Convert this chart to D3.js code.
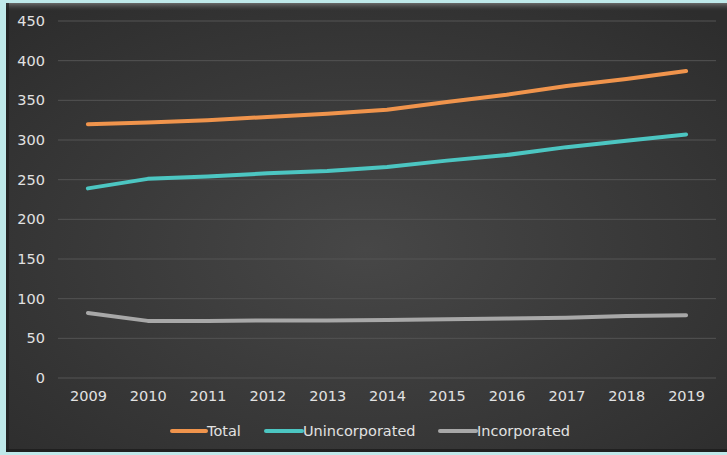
<!DOCTYPE html>
<html>
<head>
<meta charset="utf-8">
<script src="https://cdn.jsdelivr.net/npm/d3@7"></script>
<style>
  html, body { margin: 0; padding: 0; background: #bfe9ea; }
  svg { display: block; }
</style>
</head>
<body>
<svg id="chart" width="727" height="455"></svg>
<script>
const years = ["2009","2010","2011","2012","2013","2014","2015","2016","2017","2018","2019"];
const total = [320, 322, 325, 329, 333, 338, 348, 357, 368, 377, 387];
const unincorporated = [239, 251, 254, 258, 261, 266, 274, 281, 291, 299, 307];
const incorporated = [82, 72, 72, 72.5, 72.5, 73, 74, 75, 76, 78, 79];
const yTicks = [0, 50, 100, 150, 200, 250, 300, 350, 400, 450];

const seriesList = [
  { name: "Total", values: total, color: "#f0944c" },
  { name: "Unincorporated", values: unincorporated, color: "#4cc6c2" },
  { name: "Incorporated", values: incorporated, color: "#a8a8a8" }
];

const W = 727, H = 455;
const svg = d3.select("#chart");
const defs = svg.append("defs");

// Panel shading: darker edges, lighter centre
const rg = defs.append("radialGradient").attr("id", "panelGrad")
  .attr("cx", "50%").attr("cy", "55%").attr("r", "70%");
rg.append("stop").attr("offset", "0%").attr("stop-color", "#474747");
rg.append("stop").attr("offset", "100%").attr("stop-color", "#2d2d2d");

const topGrad = defs.append("linearGradient").attr("id", "topGrad")
  .attr("x1", 0).attr("y1", 0).attr("x2", 0).attr("y2", 1);
topGrad.append("stop").attr("offset", "0%").attr("stop-color", "#6a6a6a");
topGrad.append("stop").attr("offset", "100%").attr("stop-color", "#3a3a3a").attr("stop-opacity", 0);

svg.append("rect").attr("x", 6).attr("y", 3).attr("width", W - 6).attr("height", 449)
  .attr("fill", "url(#panelGrad)");
svg.append("rect").attr("x", 6).attr("y", 3).attr("width", W - 6).attr("height", 8)
  .attr("fill", "url(#topGrad)");
svg.append("rect").attr("x", 6).attr("y", 3).attr("width", 3).attr("height", 449)
  .attr("fill", "#1f1f1f").attr("opacity", 0.7);
svg.append("rect").attr("x", 6).attr("y", 449).attr("width", W - 6).attr("height", 3)
  .attr("fill", "#1c1c1c").attr("opacity", 0.8);

const plot = { left: 58, right: 716, top: 21, bottom: 378 };

const x = d3.scalePoint().domain(years).range([plot.left, plot.right]).padding(0.5);
const y = d3.scaleLinear().domain([0, 450]).range([plot.bottom, plot.top]);

const fontFamily = "'DejaVu Sans', Verdana, sans-serif";
const textColor = "#e2e2e2";
const fontSize = "14.5px";

// Horizontal gridlines
svg.append("g")
  .selectAll("line").data(yTicks).join("line")
  .attr("x1", plot.left).attr("x2", plot.right)
  .attr("y1", d => y(d)).attr("y2", d => y(d))
  .attr("stroke", "#545454").attr("stroke-width", 1);

// Y axis labels
const yAxis = d3.axisLeft(y).tickValues(yTicks).tickSize(0).tickPadding(0);
const gy = svg.append("g").attr("transform", `translate(${45},0)`).call(yAxis);
gy.select(".domain").remove();
gy.selectAll("text").attr("fill", textColor).style("font-family", fontFamily).style("font-size", fontSize);

// X axis labels
const xAxis = d3.axisBottom(x).tickSize(0).tickPadding(0);
const gx = svg.append("g").attr("transform", `translate(0,${391})`).call(xAxis);
gx.select(".domain").remove();
gx.selectAll("text").attr("fill", textColor).style("font-family", fontFamily).style("font-size", fontSize);

// Series lines
const line = d3.line().x((d, i) => x(years[i])).y(d => y(d));
svg.append("g").selectAll("path").data(seriesList).join("path")
  .attr("d", s => line(s.values))
  .attr("fill", "none")
  .attr("stroke", s => s.color)
  .attr("stroke-width", 4)
  .attr("stroke-linecap", "round")
  .attr("stroke-linejoin", "round");

// Legend
const legendItems = [
  { x: 172, w: 34 },
  { x: 266, w: 36 },
  { x: 440, w: 36 }
];
const lg = svg.append("g");
seriesList.forEach((s, i) => {
  const it = legendItems[i];
  lg.append("line")
    .attr("x1", it.x).attr("x2", it.x + it.w)
    .attr("y1", 431).attr("y2", 431)
    .attr("stroke", s.color).attr("stroke-width", 4).attr("stroke-linecap", "round");
  lg.append("text")
    .attr("x", it.x + it.w + 1).attr("y", 436)
    .attr("fill", textColor)
    .style("font-family", fontFamily).style("font-size", fontSize)
    .text(s.name);
});
</script>
</body>
</html>
